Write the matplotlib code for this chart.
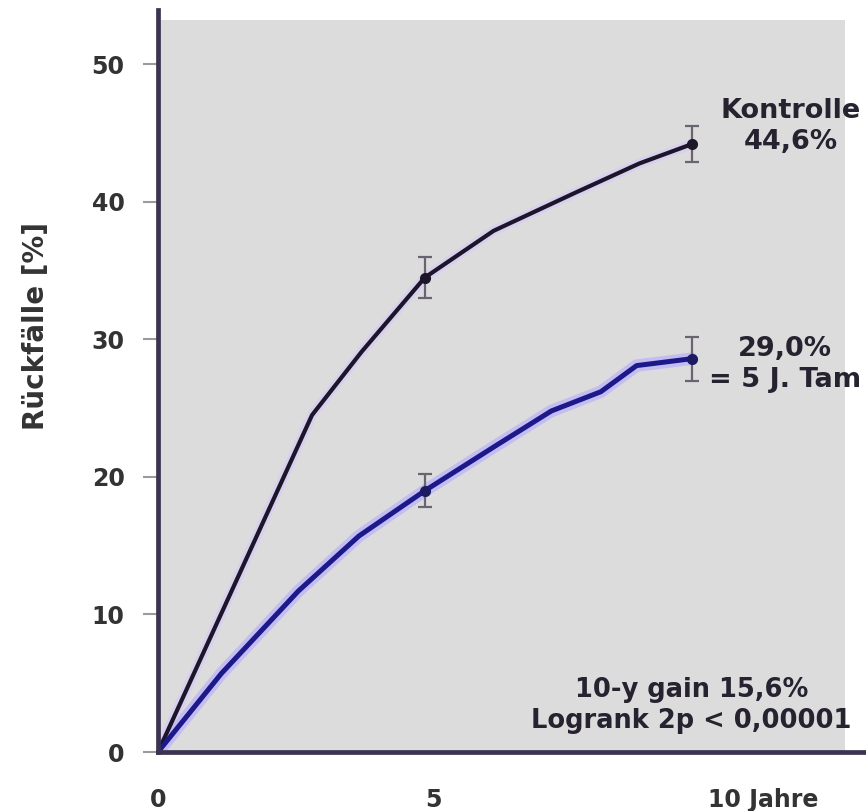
import matplotlib
matplotlib.use("Agg")
import matplotlib.pyplot as plt
from matplotlib.patches import Rectangle

# ---- data ----
ctrl_x = [0, 2.8, 3.7, 4.85, 6.1, 7.6, 8.75, 9.7]
ctrl_y = [0, 24.5, 29.1, 34.5, 37.9, 40.7, 42.8, 44.2]
tam_x = [0, 1.15, 2.55, 3.65, 4.85, 6.15, 7.15, 8.05, 8.7, 9.7]
tam_y = [0, 5.7, 11.7, 15.7, 19.0, 22.3, 24.8, 26.2, 28.1, 28.6]

ctrl_err_x = [4.85, 9.7]
ctrl_err_y = [34.5, 44.2]
ctrl_err = [1.5, 1.3]
tam_err_x = [4.85, 9.7]
tam_err_y = [19.0, 28.6]
tam_err = [1.2, 1.6]

y_ticks = [0, 10, 20, 30, 40, 50]
y_ticklabels = ["0", "10", "20", "30", "40", "50"]
x_ticks = [0, 5, 10]
x_ticklabels = ["0", "5", "10 Jahre"]

ylabel = "Rückfälle [%]"
ctrl_label = "Kontrolle\n44,6%"
tam_label = "29,0%\n= 5 J. Tam"
stats_label = "10-y gain 15,6%\nLogrank 2p < 0,00001"

# ---- figure ----
plt.rcParams["font.family"] = ["DejaVu Sans"]
fig = plt.figure(figsize=(8.66, 8.11), dpi=100)
ax = fig.add_axes([158 / 866, 59 / 811, 708 / 866, 742 / 811])
ax.set_xlim(0, 12.87)
ax.set_ylim(0, 53.96)
ax.set_facecolor("white")

# gray plotting panel
ax.add_patch(Rectangle((0, 0), 0.97, 0.987, transform=ax.transAxes,
                       facecolor="#dcdcdc", edgecolor="none", zorder=0))

# curves with light halo
ax.plot(ctrl_x, ctrl_y, color="#d8d0f0", lw=7, solid_capstyle="round", zorder=2)
ax.plot(ctrl_x, ctrl_y, color="#1c1628", lw=3.0, solid_joinstyle="round", zorder=3)
ax.plot(tam_x, tam_y, color="#c4bdf2", lw=9, solid_capstyle="round", zorder=2)
ax.plot(tam_x, tam_y, color="#1c1a8a", lw=3.6, solid_joinstyle="round", zorder=3)

# error bars and markers
ax.errorbar(ctrl_err_x, ctrl_err_y, yerr=ctrl_err, fmt="o", color="#1c1628",
            ecolor="#6a6470", elinewidth=1.6, capsize=5, capthick=1.6,
            markersize=7, zorder=4)
ax.errorbar(tam_err_x, tam_err_y, yerr=tam_err, fmt="o", color="#1c1a60",
            ecolor="#6a6470", elinewidth=1.6, capsize=5, capthick=1.6,
            markersize=7, zorder=4)

# annotations
txt = dict(ha="center", va="center", color="#262230", fontweight="bold",
           linespacing=1.25, zorder=5)
ax.text(11.5, 45.5, ctrl_label, fontsize=19.5, **txt)
ax.text(11.4, 28.2, tam_label, fontsize=19.5, **txt)
ax.text(9.7, 3.4, stats_label, fontsize=18.5, **txt)

# spines
for s in ["top", "right"]:
    ax.spines[s].set_visible(False)
for s in ["left", "bottom"]:
    ax.spines[s].set_color("#3b3350")
    ax.spines[s].set_linewidth(3.4)
    ax.spines[s].set_zorder(6)

# ticks
ax.set_yticks(y_ticks)
ax.set_yticklabels(y_ticklabels)
ax.tick_params(axis="y", direction="out", length=11, width=1.5, color="#9a9a9a",
               pad=13, labelsize=17, labelcolor="#333333")
ax.set_xticks(x_ticks)
ax.set_xticklabels(x_ticklabels)
ax.tick_params(axis="x", length=0, pad=26, labelsize=17, labelcolor="#333333")
for lbl in ax.get_yticklabels() + ax.get_xticklabels():
    lbl.set_fontweight("bold")
for lbl in ax.get_xticklabels():
    if "Jahre" in lbl.get_text():
        lbl.set_horizontalalignment("left")

ax.set_ylabel(ylabel, fontsize=20, color="#333333", fontweight="bold")
ax.yaxis.set_label_coords(-0.153, 0.574)

fig.savefig("out.png", dpi=100)
